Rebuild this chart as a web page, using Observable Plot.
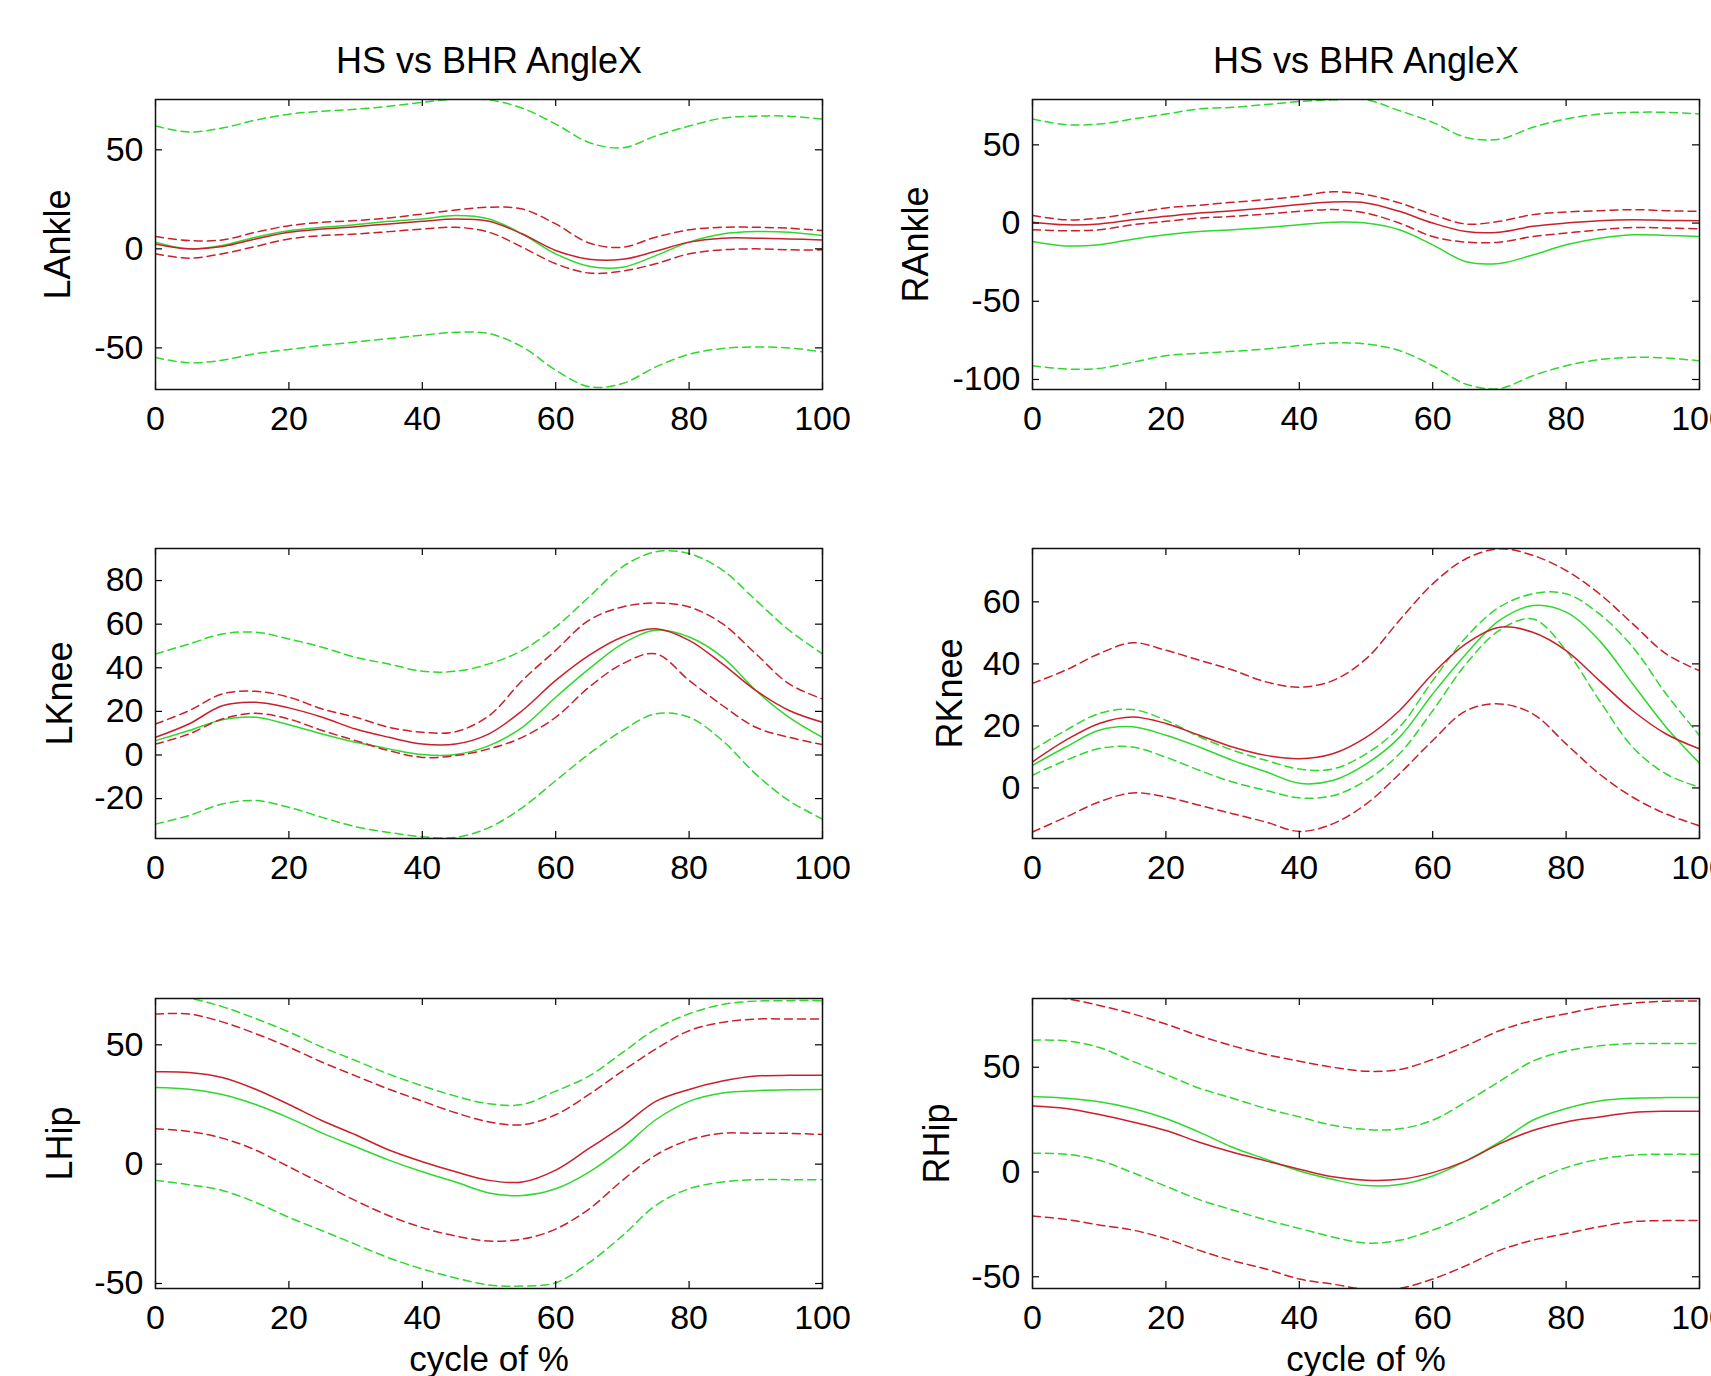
<!DOCTYPE html>
<html>
<head>
<meta charset="utf-8">
<script src="https://cdn.jsdelivr.net/npm/d3@7"></script>
<script src="https://cdn.jsdelivr.net/npm/@observablehq/plot@0.6"></script>
<style>
  html, body { margin: 0; padding: 0; background: #fff; }
  #chart { position: relative; width: 1711px; height: 1376px; overflow: hidden; background: #fff; }
  #chart svg { position: absolute; }
</style>
</head>
<body>
<div id="chart"></div>
<script>
// x positions (percent of gait cycle)
const cycle = [0,5,10,15,20,25,30,35,40,45,50,55,60,65,70,75,80,85,90,95,100];
const xTicks = [0,20,40,60,80,100];
const panelTitle = "HS vs BHR AngleX";
const xLabel = "cycle of %";

// ---- LAnkle ----
const lAnkleRedMean    = [2.5,0,1.2,5,8.4,10,11.2,12.6,13.9,15.1,13.9,7.5,-0.8,-5.2,-5.3,-1.2,3.4,5.4,5.4,5,4.5];
const lAnkleRedUpper   = [6.2,4.2,4.5,8.4,11.7,13.4,14.3,15.6,17.6,19.6,21,20.1,12.6,3,0.8,5.9,9.6,10.9,10.9,10.4,9.2];
const lAnkleRedLower   = [-2.5,-4.7,-2.5,1.2,5,6.7,7.5,8.7,10,10.9,8.4,0.8,-7.5,-12.2,-11.2,-7.5,-2.5,-0.5,0,-0.5,-0.5];
const lAnkleGreenMean  = [3.4,0,1.7,5.9,9.2,10.9,12.2,13.9,15.1,16.8,15.1,7.5,-2.5,-8.8,-9.3,-3.4,3.4,7.5,8.7,8.4,6.7];
const lAnkleGreenUpper = [62,59,61,65,68,69.5,70.5,72,74,75.6,75.2,71,63,53.7,51,57,62,66,67,67,65.5];
const lAnkleGreenLower = [-54.9,-57.5,-56.2,-52.9,-50.8,-48.7,-47,-45.3,-43.6,-42.1,-42.8,-49.5,-61.2,-69.6,-68,-59.6,-53.2,-50.3,-49.5,-50,-52];
const lAnkleTicks = [-50,0,50];

// ---- RAnkle ----
const rAnkleRedMean    = [0.6,-1.1,-0.6,2.1,4.3,6.4,7.9,9.7,11.8,13.5,12.9,7.5,0,-5.4,-5.8,-2.1,0,1.5,2.1,1.7,1.5];
const rAnkleRedUpper   = [4.9,2.1,3.2,6.4,9.7,11.4,13.3,15,17.2,20,18.2,12.9,5.4,-0.6,1.1,5.4,7.1,7.9,8.6,7.9,7.5];
const rAnkleRedLower   = [-4.3,-4.9,-4.3,-1.1,1.1,3.2,4.3,5.8,7.5,8.6,6.4,0,-8.6,-12.2,-12.2,-8.6,-6.4,-4.3,-2.8,-3.2,-3.6];
const rAnkleGreenMean  = [-11.8,-14.6,-13.9,-10.3,-7.5,-5.4,-4.3,-2.8,-1.1,0.6,0,-4.3,-13.9,-24.7,-25.8,-20.4,-13.9,-9.7,-7.5,-7.9,-8.6];
const rAnkleGreenUpper = [66.5,62.9,63.3,66.5,69.7,73,74,75.8,77.7,78.8,78.8,71.9,64.4,54.7,53.6,61.2,66.5,69.7,70.8,70.8,69.7];
const rAnkleGreenLower = [-91.2,-93.3,-92.9,-89,-84.8,-83.3,-82,-80.5,-78.3,-76.6,-77.3,-81.5,-91.2,-103,-105.8,-97.6,-91.2,-87.3,-85.8,-86.3,-88];
const rAnkleTicks = [-100,-50,0,50];

// ---- LKnee ----
const lKneeRedMean    = [8.1,14.2,22.6,24.2,21.6,17.3,11.9,8.1,5,5,9.7,20.4,34.2,45.7,54.1,57.9,52.6,41.8,29.6,20.4,15];
const lKneeRedUpper   = [14.2,20.3,28,29.2,26.5,21.1,17.3,12.7,10.4,10.7,18,34.2,48,61.8,67.9,69.7,67.9,60.2,46.4,32.6,25.7];
const lKneeRedLower   = [5,9.6,16.5,19.1,16.5,11.2,6.6,2,-1.1,-0.3,2.8,8.1,17.3,31.1,41.8,46.4,34.2,22.7,12.7,8.1,4.8];
const lKneeGreenMean  = [6.6,11.2,16.1,17.3,13.9,9.6,5.8,2.8,0.2,0.2,4.3,12.7,26.5,39.5,51,57.2,54.1,44.9,29.6,17.3,8.1];
const lKneeGreenUpper = [46.3,50.9,55.5,56.3,53.2,49.4,44.8,41.7,38.4,38.4,41.8,48,58.7,72.5,86.3,93.2,92.4,84.8,71,57.2,46.4];
const lKneeGreenLower = [-31.7,-27.8,-22.5,-20.9,-24,-28.6,-32.9,-35.5,-37.5,-37.8,-33.3,-24.1,-11.8,0.5,11.2,18.9,17.3,6.6,-8.8,-21,-29.4];
const lKneeTicks = [-20,0,20,40,60,80];

// ---- RKnee ----
const rKneeRedMean    = [8.4,15.4,20.8,22.9,20.8,17,13.2,10.5,9.4,11,16.3,24.9,36.8,46.5,51.8,50.2,44.3,34.6,24.9,17.4,12.6];
const rKneeRedUpper   = [33.7,38,43.3,46.8,44.4,41.2,38,34.2,32.5,34.6,41.6,54,65.8,73.9,77.1,75,70.1,62.6,52.9,43.2,37.8];
const rKneeRedLower   = [-14.2,-9.4,-4.5,-1.6,-2.9,-5.6,-8.3,-11,-14,-11.6,-5.2,4.5,15.3,24.9,27.1,23.9,14.2,4.5,-3,-8.4,-12.2];
const rKneeGreenMean  = [7.3,13.2,18.6,19.7,17,13.2,8.9,5.2,1.5,2.4,7.7,16.3,30.3,43.2,54,58.8,56.7,47.5,33.5,19.6,8];
const rKneeGreenUpper = [12.2,18.6,24,25.3,21.8,16.5,12.2,8.9,6.1,6.1,11,19.6,34.6,48.6,58.3,62.6,62.6,56.1,45.4,30.3,16.9];
const rKneeGreenLower = [4.1,8.9,12.7,13.2,9.9,5.7,1.9,-0.8,-3.2,-2.5,2.4,11,24.9,40,50.8,54.5,44.3,28.2,13.1,4.5,0.2];
const rKneeTicks = [0,20,40,60];

// ---- LHip ----
const lHipRedMean    = [38.7,38.4,36.3,31.4,25,18.2,12.3,5.9,1,-3.2,-6.8,-7.5,-2.5,6.6,15.8,26.3,31.3,34.8,36.9,37.2,37.2];
const lHipRedUpper   = [62.9,62.9,59.6,54.7,49,42.7,37,31.4,26.4,21.5,17.7,16.5,20.7,29.2,39,48.2,55.9,59.4,60.8,60.8,60.8];
const lHipRedLower   = [14.8,13.7,10.9,5.9,-1.1,-8.2,-15.3,-21.6,-26.6,-30.1,-32.2,-31.4,-27.2,-18.8,-6.8,3.8,10.1,12.9,12.9,12.9,12.4];
const lHipGreenMean  = [32.1,31.4,29.2,25,19.4,13,7.3,1.7,-3.2,-7.5,-12.1,-13.1,-10.3,-3.3,6.6,18.6,26.3,29.8,30.8,31.2,31.3];
const lHipGreenUpper = [70,69.5,66,61,55.4,49,43.4,37.7,32.8,28.5,25.3,25,30.6,36.9,46.7,56.6,63,66.9,68.3,68.5,68.5];
const lHipGreenLower = [-6.8,-8.6,-11,-16,-22.3,-27.9,-33.6,-39.3,-43.9,-47.7,-50.6,-51.1,-49.7,-41.3,-30,-17.3,-10.3,-7.5,-6.5,-6.5,-6.5];
const lHipTicks = [-50,0,50];

// ---- RHip ----
const rHipRedMean    = [31.5,30.3,27.4,23.9,19.8,14.2,9.4,5.3,1.3,-2.3,-3.9,-3.5,-0.3,5.3,13.4,19.8,23.9,26.3,28.4,29,29];
const rHipRedUpper   = [84,82.7,79.5,75.5,70.6,65,60.2,56.1,52.9,50,48.1,48.9,53.7,60.2,67.4,72.3,75.5,78.7,80.6,81.5,81.6];
const rHipRedLower   = [-21,-22.6,-25.3,-27.7,-31.8,-37.4,-42.3,-46.3,-51.1,-53.5,-56,-55.5,-51.1,-44.7,-37.4,-32.6,-29.4,-26.1,-23.7,-23.2,-23.2];
const rHipGreenMean  = [36,35.2,33.5,30.3,25.5,19,11.8,6.1,0.5,-3.5,-6.5,-6,-1.9,5.3,14.2,24.7,30.3,33.9,35.2,35.5,35.5];
const rHipGreenUpper = [62.9,62.6,59.4,52.9,46.5,40,35.2,30.3,26.3,22.3,20.3,20.6,24.7,33.5,43.2,52.9,57.7,60.2,61.3,61.3,61.3];
const rHipGreenLower = [8.9,8.5,5.6,-0.3,-6.8,-13.2,-18.1,-22.9,-26.9,-31,-33.9,-32.6,-27.7,-21.3,-13.2,-4.4,2.1,6.1,8.1,8.5,8.5];
const rHipTicks = [-50,0,50];

const RED = "#c8202c";
const GREEN = "#2ed82e";
const FONT = "'Liberation Sans', Arial, Helvetica, sans-serif";

const PW = 667, PH = 290, ML = 150, MR = 50, MT = 70, MB = 100;

function panel(cfg) {
  const lines = [
    {v: cfg.gLower, c: GREEN, d: "8,5"},
    {v: cfg.gUpper, c: GREEN, d: "8,5"},
    {v: cfg.gMean,  c: GREEN, d: null},
    {v: cfg.rLower, c: RED, d: "8,5"},
    {v: cfg.rUpper, c: RED, d: "8,5"},
    {v: cfg.rMean,  c: RED, d: null}
  ];
  const marks = [];
  for (const l of lines) {
    const rows = cycle.map((x, i) => ({x, y: l.v[i]}));
    marks.push(Plot.line(rows, {x: "x", y: "y", stroke: l.c, strokeWidth: 1.5,
      strokeDasharray: l.d || undefined, curve: "catmull-rom", clip: true}));
  }
  marks.push(
    Plot.tickX(xTicks, {x: d => d, insetTop: PH - 7, stroke: "#000", strokeWidth: 1.2}),
    Plot.tickX(xTicks, {x: d => d, insetBottom: PH - 7, stroke: "#000", strokeWidth: 1.2}),
    Plot.tickY(cfg.ticks, {y: d => d, insetLeft: PW - 7, stroke: "#000", strokeWidth: 1.2}),
    Plot.tickY(cfg.ticks, {y: d => d, insetRight: PW - 7, stroke: "#000", strokeWidth: 1.2}),
    Plot.frame({stroke: "#111", strokeWidth: 1.5}),
    Plot.axisX({ticks: xTicks, tickSize: 0, tickPadding: 16, fontSize: 34, label: null, tickFormat: d => String(d)}),
    Plot.axisY({ticks: cfg.ticks, tickSize: 0, tickPadding: 12, fontSize: 34, label: null, tickFormat: d => String(d)}),
    Plot.text([cfg.label], {text: d => d, frameAnchor: "left", dx: -cfg.labelOffset, rotate: -90,
      textAnchor: "middle", lineAnchor: "middle", fontSize: 36, fill: "#000"})
  );
  if (cfg.title) marks.push(Plot.text([panelTitle], {text: d => d, frameAnchor: "top", dy: -38,
      textAnchor: "middle", lineAnchor: "middle", fontSize: 36, fill: "#000"}));
  if (cfg.xlabel) marks.push(Plot.text([xLabel], {text: d => d, frameAnchor: "bottom", dy: 71,
      textAnchor: "middle", lineAnchor: "middle", fontSize: 35, fill: "#000"}));

  const svg = Plot.plot({
    width: ML + PW + MR,
    height: MT + PH + MB,
    marginLeft: ML, marginRight: MR, marginTop: MT, marginBottom: MB,
    style: {fontFamily: FONT, background: "transparent", overflow: "visible", color: "#000", maxWidth: "none"},
    x: {domain: [0, 100]},
    y: {domain: cfg.domain},
    marks
  });
  svg.style.left = (cfg.plotLeft - ML) + "px";
  svg.style.top = (cfg.plotTop - MT) + "px";
  document.getElementById("chart").appendChild(svg);
}

const LEFT = 154.5, RIGHT = 1032;
const ROW1 = 98.5, ROW2 = 548.3, ROW3 = 997.8;

panel({plotLeft: LEFT, plotTop: ROW1, title: true, label: "LAnkle", labelOffset: 97, domain: [-71, 75.4], ticks: lAnkleTicks,
  rMean: lAnkleRedMean, rUpper: lAnkleRedUpper, rLower: lAnkleRedLower, gMean: lAnkleGreenMean, gUpper: lAnkleGreenUpper, gLower: lAnkleGreenLower});
panel({plotLeft: RIGHT, plotTop: ROW1, title: true, label: "RAnkle", labelOffset: 116, domain: [-106.4, 79], ticks: rAnkleTicks,
  rMean: rAnkleRedMean, rUpper: rAnkleRedUpper, rLower: rAnkleRedLower, gMean: rAnkleGreenMean, gUpper: rAnkleGreenUpper, gLower: rAnkleGreenLower});
panel({plotLeft: LEFT, plotTop: ROW2, label: "LKnee", labelOffset: 95, domain: [-38.3, 94.7], ticks: lKneeTicks,
  rMean: lKneeRedMean, rUpper: lKneeRedUpper, rLower: lKneeRedLower, gMean: lKneeGreenMean, gUpper: lKneeGreenUpper, gLower: lKneeGreenLower});
panel({plotLeft: RIGHT, plotTop: ROW2, label: "RKnee", labelOffset: 82, domain: [-16.3, 77.2], ticks: rKneeTicks,
  rMean: rKneeRedMean, rUpper: rKneeRedUpper, rLower: rKneeRedLower, gMean: rKneeGreenMean, gUpper: rKneeGreenUpper, gLower: rKneeGreenLower});
panel({plotLeft: LEFT, plotTop: ROW3, xlabel: true, label: "LHip", labelOffset: 95, domain: [-52.1, 69.4], ticks: lHipTicks,
  rMean: lHipRedMean, rUpper: lHipRedUpper, rLower: lHipRedLower, gMean: lHipGreenMean, gUpper: lHipGreenUpper, gLower: lHipGreenLower});
panel({plotLeft: RIGHT, plotTop: ROW3, xlabel: true, label: "RHip", labelOffset: 95, domain: [-55.6, 82.8], ticks: rHipTicks,
  rMean: rHipRedMean, rUpper: rHipRedUpper, rLower: rHipRedLower, gMean: rHipGreenMean, gUpper: rHipGreenUpper, gLower: rHipGreenLower});
</script>
</body>
</html>
